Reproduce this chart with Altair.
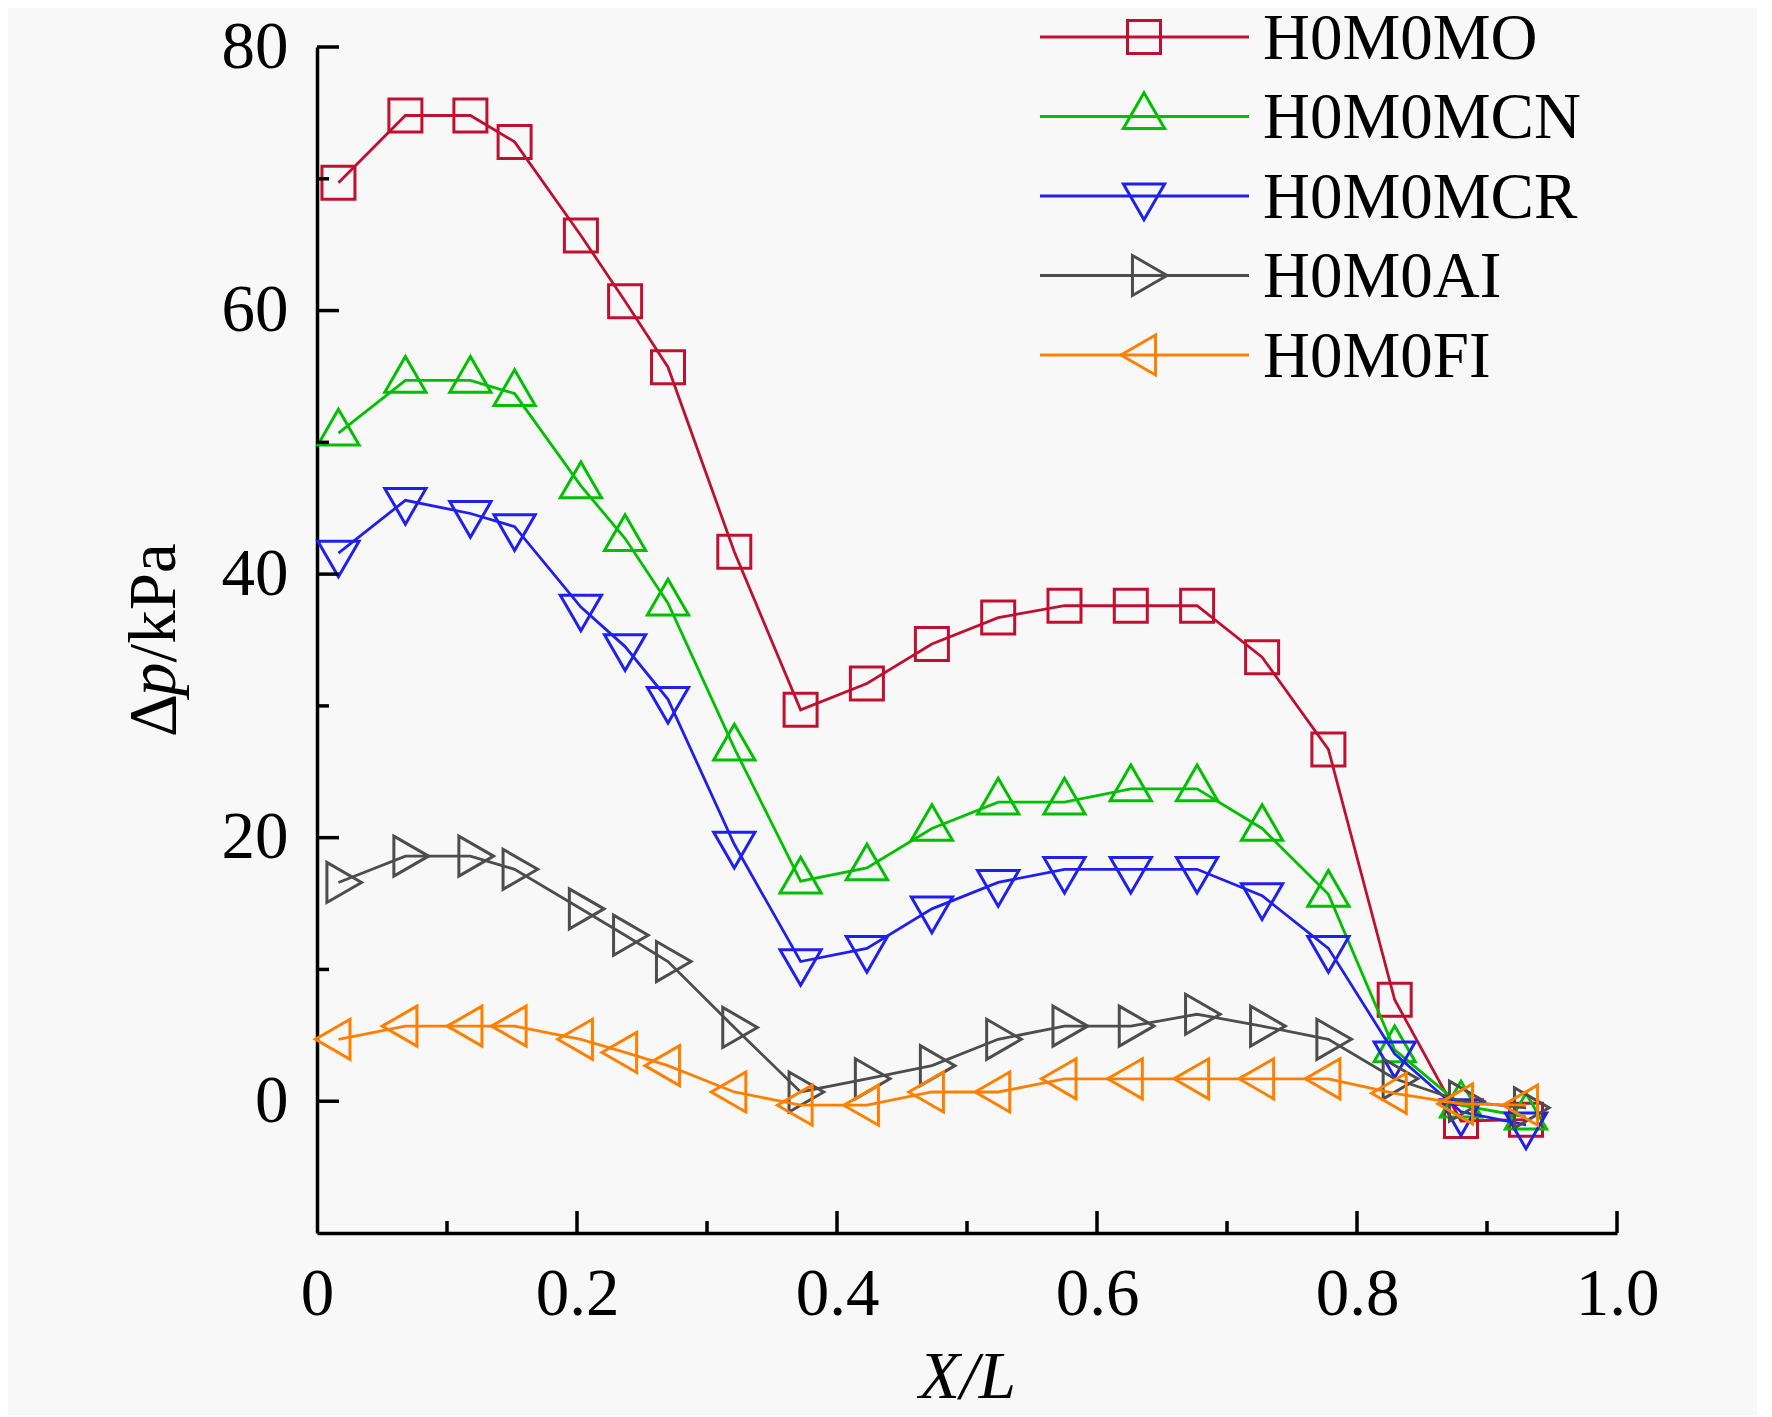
import altair as alt
import pandas as pd

# ---------------- data ----------------
X = [0.0165, 0.068, 0.118, 0.152, 0.203, 0.237, 0.270, 0.321, 0.372, 0.423,
     0.473, 0.524, 0.575, 0.626, 0.677, 0.727, 0.778, 0.829, 0.880, 0.930]

SERIES = ["H0M0MO", "H0M0MCN", "H0M0MCR", "H0M0AI", "H0M0FI"]

Y_MO = [69.7, 74.8, 74.8, 72.8, 65.7, 60.7, 55.7, 41.7, 29.7, 31.7,
        34.7, 36.7, 37.6, 37.6, 37.6, 33.7, 26.7, 7.7, -1.5, -1.4]
Y_MCN = [50.7, 54.7, 54.7, 53.7, 46.7, 42.7, 37.8, 26.8, 16.7, 17.7,
         20.7, 22.7, 22.7, 23.7, 23.7, 20.7, 15.7, 3.9, -0.3, -1.2]
Y_MCR = [41.6, 45.6, 44.6, 43.6, 37.5, 34.5, 30.5, 19.5, 10.6, 11.6,
         14.6, 16.6, 17.6, 17.6, 17.6, 15.6, 11.6, 3.6, -0.8, -1.8]
Y_AI = [16.6, 18.6, 18.6, 17.6, 14.6, 12.6, 10.6, 5.6, 0.7, 1.7,
        2.7, 4.7, 5.7, 5.7, 6.6, 5.7, 4.7, 1.7, 0.0, -0.5]
Y_FI = [4.7, 5.7, 5.7, 5.7, 4.7, 3.7, 2.7, 0.7, -0.3, -0.3,
        0.7, 0.7, 1.7, 1.7, 1.7, 1.7, 1.7, 0.6, -0.2, -0.3]

VALUES = [Y_MO, Y_MCN, Y_MCR, Y_AI, Y_FI]

Y_MAJOR = [0, 20, 40, 60, 80]
Y_MINOR = [10, 30, 50, 70]
X_LABELS = [0, 0.2, 0.4, 0.6, 0.8, 1.0]
X_MAJOR = [0.2, 0.4, 0.6, 0.8, 1.0]
X_MINOR = [0.1, 0.3, 0.5, 0.7, 0.9]

# ---------------- styles ----------------
COLORS = ["#C01030", "#00C000", "#2020EE", "#4D4D4D", "#FF8000"]
SHAPES = [
    "M-1,-1L1,-1L1,1L-1,1Z",
    "M0,-1.155L1,0.577L-1,0.577Z",
    "M0,1.155L1,-0.577L-1,-0.577Z",
    "M1.155,0L-0.577,1L-0.577,-1Z",
    "M-1.155,0L0.577,1L0.577,-1Z",
]
SIZES = [1089, 1700, 1700, 1600, 1600]

FONT = "Liberation Serif"
W, H = 1300, 1186
LINE_W = 2.8
MARK_W = 3.0

xs = alt.Scale(domain=[0, 1], nice=False, zero=False)
ys = alt.Scale(domain=[-10, 80], nice=False, zero=False)

x_axis = alt.Axis(values=X_LABELS, title="X/L", titleFontStyle="italic",
                  labelExpr="datum.value == 0 ? '0' : format(datum.value, '.1f')",
                  labelPadding=28, titleY=164, titleBaseline="alphabetic",
                  labelFlush=False, labelOverlap=False)
y_axis = alt.Axis(values=Y_MAJOR, title=None, labelPadding=29,
                  labelFlush=False, labelOverlap=False)

def xenc(field):
    return alt.X(field, type="quantitative", scale=xs, axis=x_axis)

def yenc(field):
    return alt.Y(field, type="quantitative", scale=ys, axis=y_axis)

layers = []

# series
for name, vals, col, shp, sz in zip(SERIES, VALUES, COLORS, SHAPES, SIZES):
    df = pd.DataFrame({"x": X, "y": vals, "series": name})
    base = alt.Chart(df)
    layers.append(base.mark_line(color=col, strokeWidth=LINE_W)
                  .encode(x=xenc("x"), y=yenc("y")))
    layers.append(base.mark_point(shape=shp, size=sz, filled=False, stroke=col,
                                  strokeWidth=MARK_W, opacity=1)
                  .encode(x=xenc("x"), y=yenc("y")))

# inward ticks
layers.append(alt.Chart(pd.DataFrame({"v": Y_MAJOR})).mark_rule(color="black", strokeWidth=3.5)
              .encode(y=yenc("v"), x=alt.value(0), x2=alt.value(22)))
layers.append(alt.Chart(pd.DataFrame({"v": Y_MINOR})).mark_rule(color="black", strokeWidth=3.5)
              .encode(y=yenc("v"), x=alt.value(0), x2=alt.value(12)))
layers.append(alt.Chart(pd.DataFrame({"v": X_MAJOR})).mark_rule(color="black", strokeWidth=3.5)
              .encode(x=xenc("v"), y=alt.value(H), y2=alt.value(H - 22)))
layers.append(alt.Chart(pd.DataFrame({"v": X_MINOR})).mark_rule(color="black", strokeWidth=3.5)
              .encode(x=xenc("v"), y=alt.value(H), y2=alt.value(H - 12)))

# y-axis title with italic p
TITLE_FS = 67
TY0 = H / 2 + 97
TX = -142
title_parts = [("Δ", "normal", 0.613), ("p", "italic", 0.5), ("/kPa", "normal", 1.778)]
off = 0.0
for txt, style, wem in title_parts:
    layers.append(alt.Chart(pd.DataFrame({"t": [txt]})).mark_text(
        font=FONT, fontSize=TITLE_FS, fontStyle=style, angle=270, align="left",
        baseline="alphabetic", color="black")
        .encode(x=alt.value(TX), y=alt.value(TY0 - off), text="t:N"))
    off += wem * TITLE_FS

# legend
LX0, LX1, LXS, LXT = 723, 932, 827, 946
LY0, LDY = -10, 79.5
LEG_FS = 65
for i, (name, col, shp, sz) in enumerate(zip(SERIES, COLORS, SHAPES, SIZES)):
    ly = LY0 + i * LDY
    d1 = pd.DataFrame({"name": [name]})
    layers.append(alt.Chart(d1).mark_rule(color=col, strokeWidth=LINE_W)
                  .encode(x=alt.value(LX0), x2=alt.value(LX1), y=alt.value(ly)))
    layers.append(alt.Chart(d1).mark_point(shape=shp, size=sz, filled=False, stroke=col,
                                           strokeWidth=MARK_W, opacity=1)
                  .encode(x=alt.value(LXS), y=alt.value(ly)))
    layers.append(alt.Chart(d1).mark_text(font=FONT, fontSize=LEG_FS, align="left",
                                          baseline="alphabetic", color="black")
                  .encode(x=alt.value(LXT), y=alt.value(ly + 0.331 * LEG_FS), text="name:N"))

chart = alt.layer(*layers).properties(
    width=W, height=H,
    padding={"left": 309, "top": 39, "right": 140, "bottom": 182},
    autosize=alt.AutoSizeParams(type="none"),
    background="#F8F8F8",
).configure_view(stroke=None).configure_axis(
    domainColor="black", domainWidth=3.5, ticks=False, tickSize=0, grid=False,
    labelFont=FONT, labelFontSize=67, labelColor="black",
    titleFont=FONT, titleFontSize=67, titleColor="black", titleFontWeight="normal",
)

chart.save("out.html", embed_options={"renderer": "svg", "actions": False})
